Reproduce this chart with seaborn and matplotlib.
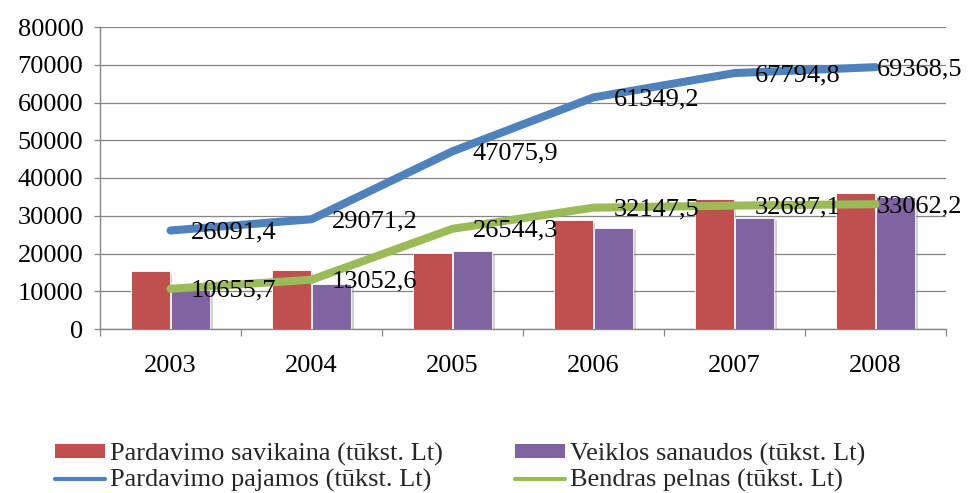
import matplotlib
matplotlib.use("Agg")
import matplotlib.pyplot as plt
import matplotlib.ticker as mticker
import matplotlib.patheffects as pe
from matplotlib.patches import Patch
from matplotlib.lines import Line2D
import seaborn as sns
import pandas as pd
import numpy as np

years = ["2003", "2004", "2005", "2006", "2007", "2008"]
savikaina = [15300, 15600, 20050, 28870, 34440, 35940]
sanaudos = [10200, 11800, 20660, 26840, 29480, 34890]
pajamos = [26091.4, 29071.2, 47075.9, 61349.2, 67794.8, 69368.5]
pelnas = [10655.7, 13052.6, 26544.3, 32147.5, 32687.1, 33062.2]
pajamos_labels = ["26091,4", "29071,2", "47075,9", "61349,2", "67794,8", "69368,5"]
pelnas_labels = ["10655,7", "13052,6", "26544,3", "32147,5", "32687,1", "33062,2"]

lbl_sav = "Pardavimo savikaina (tūkst. Lt)"
lbl_san = "Veiklos sanaudos (tūkst. Lt)"
lbl_paj = "Pardavimo pajamos (tūkst. Lt)"
lbl_pel = "Bendras pelnas (tūkst. Lt)"

RED = "#C0504D"
PURPLE = "#8064A2"
BLUE = "#4F81BD"
GREEN = "#9BBB59"
GRAY = "#868686"

sns.set_theme(style="white")
plt.rcParams["font.family"] = ["Liberation Serif", "DejaVu Serif"]

fig = plt.figure(figsize=(9.69, 4.93), dpi=100)
ax = fig.add_axes([100 / 969, 1 - 329 / 493, 846 / 969, 302 / 493])

bars_df = pd.DataFrame({
    "year": years * 2,
    "value": savikaina + sanaudos,
    "series": [lbl_sav] * len(years) + [lbl_san] * len(years),
})
sns.barplot(data=bars_df, x="year", y="value", hue="series",
            palette=[RED, PURPLE], saturation=1, width=0.57, gap=0.04,
            edgecolor="white", linewidth=0.6, legend=False, ax=ax, zorder=3)
for p in ax.patches:
    p.set_path_effects([pe.SimplePatchShadow(offset=(2, -2), shadow_rgbFace="#7f7f7f", alpha=0.35),
                        pe.Normal()])

xpos = np.arange(len(years))
line_df = pd.DataFrame({"x": np.concatenate([xpos, xpos]),
                        "value": pajamos + pelnas,
                        "series": [lbl_paj] * len(years) + [lbl_pel] * len(years)})
sns.lineplot(data=line_df, x="x", y="value", hue="series",
             palette=[BLUE, GREEN], linewidth=5.8, sort=False,
             legend=False, ax=ax, zorder=4)
for ln in ax.lines:
    ln.set_solid_capstyle("round")
    ln.set_solid_joinstyle("round")

n = len(years)
for series, labs in ((pajamos, pajamos_labels), (pelnas, pelnas_labels)):
    for i, (xi, v, s) in enumerate(zip(xpos, series, labs)):
        dx = 1 if i == n - 1 else 20
        ax.annotate(s, (xi, v), xytext=(dx, -2), textcoords="offset pixels",
                    ha="left", va="center", fontsize=19, color="black",
                    zorder=6, annotation_clip=False)

ax.set_xlim(-0.5, n - 0.5)
ax.set_ylim(0, 80000)
ax.yaxis.set_major_locator(mticker.MultipleLocator(10000))
ax.yaxis.set_major_formatter(mticker.FuncFormatter(lambda v, p: f"{int(v)}"))
ax.grid(axis="y", color=GRAY, linewidth=0.9, zorder=0)
ax.set_axisbelow(True)
ax.set_xlabel("")
ax.set_ylabel("")

for side in ["top", "right"]:
    ax.spines[side].set_visible(False)
for side in ["left", "bottom"]:
    ax.spines[side].set_color(GRAY)
    ax.spines[side].set_linewidth(1.0)

ax.tick_params(axis="y", which="major", direction="out", length=4, width=0.9,
               color=GRAY, left=True, pad=8, labelsize=19, labelcolor="black")
ax.tick_params(axis="x", which="major", length=0, pad=19, labelsize=19, labelcolor="black")
ax.set_xticks(np.arange(-0.5, n), minor=True)
ax.tick_params(axis="x", which="minor", direction="out", length=5, width=0.9,
               color=GRAY, bottom=True)

handles = [
    Patch(facecolor=RED, edgecolor="none"),
    Line2D([], [], color=BLUE, linewidth=3),
    Patch(facecolor=PURPLE, edgecolor="none"),
    Line2D([], [], color=GREEN, linewidth=3),
]
labels = [lbl_sav, lbl_paj, lbl_san, lbl_pel]
fig.legend(handles, labels, loc="upper left", bbox_to_anchor=(55 / 969, 1 - 443 / 493),
           ncol=2, frameon=False, fontsize=19, handlelength=1.9, handleheight=0.45,
           handletextpad=0.2, columnspacing=2.7, labelspacing=0.12, borderpad=0,
           borderaxespad=0)

fig.savefig("out.png", dpi=100)
